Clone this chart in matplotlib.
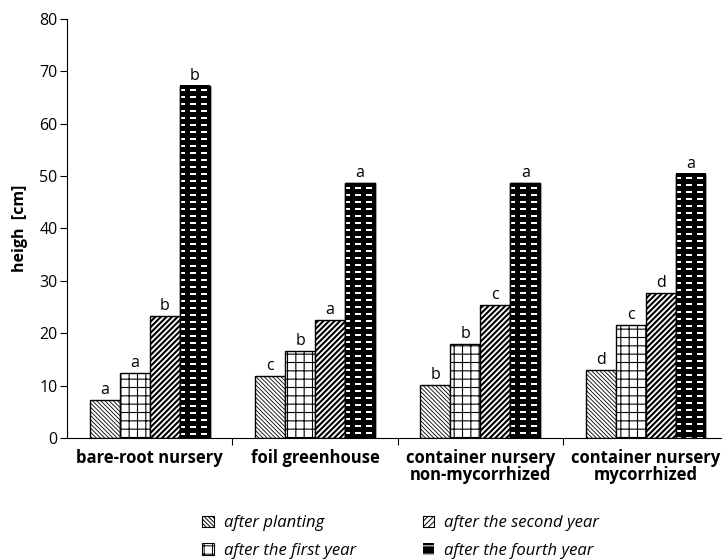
import numpy as np
import matplotlib.pyplot as plt
from matplotlib.patches import Patch

plt.rcParams['font.family'] = ['Open Sans', 'DejaVu Sans']
plt.rcParams['hatch.linewidth'] = 0.7

# donnees
groups = ['bare-root nursery', 'foil greenhouse',
          'container nursery\nnon-mycorrhized', 'container nursery\nmycorrhized']
series = ['after planting', 'after the first year',
          'after the second year', 'after the fourth year']
planting = [7.3, 11.8, 10.1, 13.0]
first_year = [12.4, 16.6, 18.0, 21.6]
second_year = [23.2, 22.5, 25.4, 27.7]
fourth_year = [67.2, 48.6, 48.6, 50.4]
letters_planting = ['a', 'c', 'b', 'd']
letters_first = ['a', 'b', 'b', 'c']
letters_second = ['b', 'a', 'c', 'd']
letters_fourth = ['b', 'a', 'a', 'a']

values = [planting, first_year, second_year, fourth_year]
letters = [letters_planting, letters_first, letters_second, letters_fourth]
hatches = ['\\' * 8, '++', '/' * 6, None]
hatch_lw = [0.6, 0.8, 1.5, None]

fig = plt.figure(figsize=(7.22, 5.59), dpi=100)
ax = fig.add_axes([0.093, 0.2165, 0.9155, 0.75])
ax.set_xlim(-0.5, 3.5)
ax.set_ylim(0, 80)

x = np.arange(len(groups))
w = 0.1815
for k in range(4):
    pos = x + (k - 1.5) * w
    if hatches[k] is not None:
        with plt.rc_context({'hatch.linewidth': hatch_lw[k]}):
            bars = ax.bar(pos, values[k], w, facecolor='white', edgecolor='black',
                          hatch=hatches[k], linewidth=1.0, zorder=2)
    else:
        bars = ax.bar(pos, values[k], w, facecolor='black', edgecolor='black',
                      linewidth=1.0, zorder=2)
        # motif de tirets blancs
        for b in bars:
            x0, y0 = b.get_x(), b.get_y()
            x1, y1 = x0 + b.get_width(), y0 + b.get_height()
            p0 = ax.transData.transform((x0, y0))
            p1 = ax.transData.transform((x1, y1))
            npx = int(round(p1[0] - p0[0]))
            npy = int(round(p1[1] - p0[1]))
            img = np.zeros((npy, npx))
            for r in range(npy):
                if (r % 7) in (4, 5):
                    for c in range(npx):
                        if (c + 1) % 11 < 6:
                            img[r, c] = 1
            ax.imshow(img, extent=(x0, x1, y0, y1), cmap='gray',
                      vmin=0, vmax=1, interpolation='nearest', aspect='auto',
                      origin='upper', zorder=3)
            ax.bar(b.get_x() + b.get_width() / 2, b.get_height(), w,
                   facecolor='none', edgecolor='black', linewidth=1.0, zorder=4)
    for i, b in enumerate(bars):
        ax.text(b.get_x() + b.get_width() / 2, b.get_height() + 0.4,
                letters[k][i], ha='center', va='bottom', fontsize=11.5)

ax.set_xlim(-0.5, 3.5)
ax.set_ylim(0, 80)
ax.set_yticks(np.arange(0, 81, 10))
ax.set_xticks(x)
ax.set_xticklabels(groups, fontweight='bold', fontsize=12, linespacing=0.95)
ax.tick_params(axis='x', which='major', length=0, pad=8)
ax.set_xticks([0.5, 1.5, 2.5], minor=True)
ax.tick_params(axis='x', which='minor', length=5, width=0.8, direction='out')
ax.tick_params(axis='y', length=5, width=0.8, labelsize=11.5, pad=2)
ax.set_ylabel('heigh  [cm]', fontweight='bold', fontsize=11.5, labelpad=8)
ax.spines['top'].set_visible(False)
ax.spines['right'].set_visible(False)
ax.spines['left'].set_linewidth(0.8)
ax.spines['bottom'].set_linewidth(0.8)

handles = []
for k in range(3):
    with plt.rc_context({'hatch.linewidth': hatch_lw[k]}):
        handles.append(Patch(facecolor='white', edgecolor='black',
                             hatch=hatches[k], linewidth=0.8))
handles.append(Patch(facecolor='black', edgecolor='white', hatch='--', linewidth=0.0))
fig.legend(handles, series, ncol=2, loc='center', bbox_to_anchor=(0.555, 0.039),
           frameon=False, prop={'style': 'italic', 'size': 12},
           handlelength=0.7, handleheight=0.7, handletextpad=0.6,
           columnspacing=4.0, labelspacing=0.7)

fig.savefig('out.png', dpi=100)
